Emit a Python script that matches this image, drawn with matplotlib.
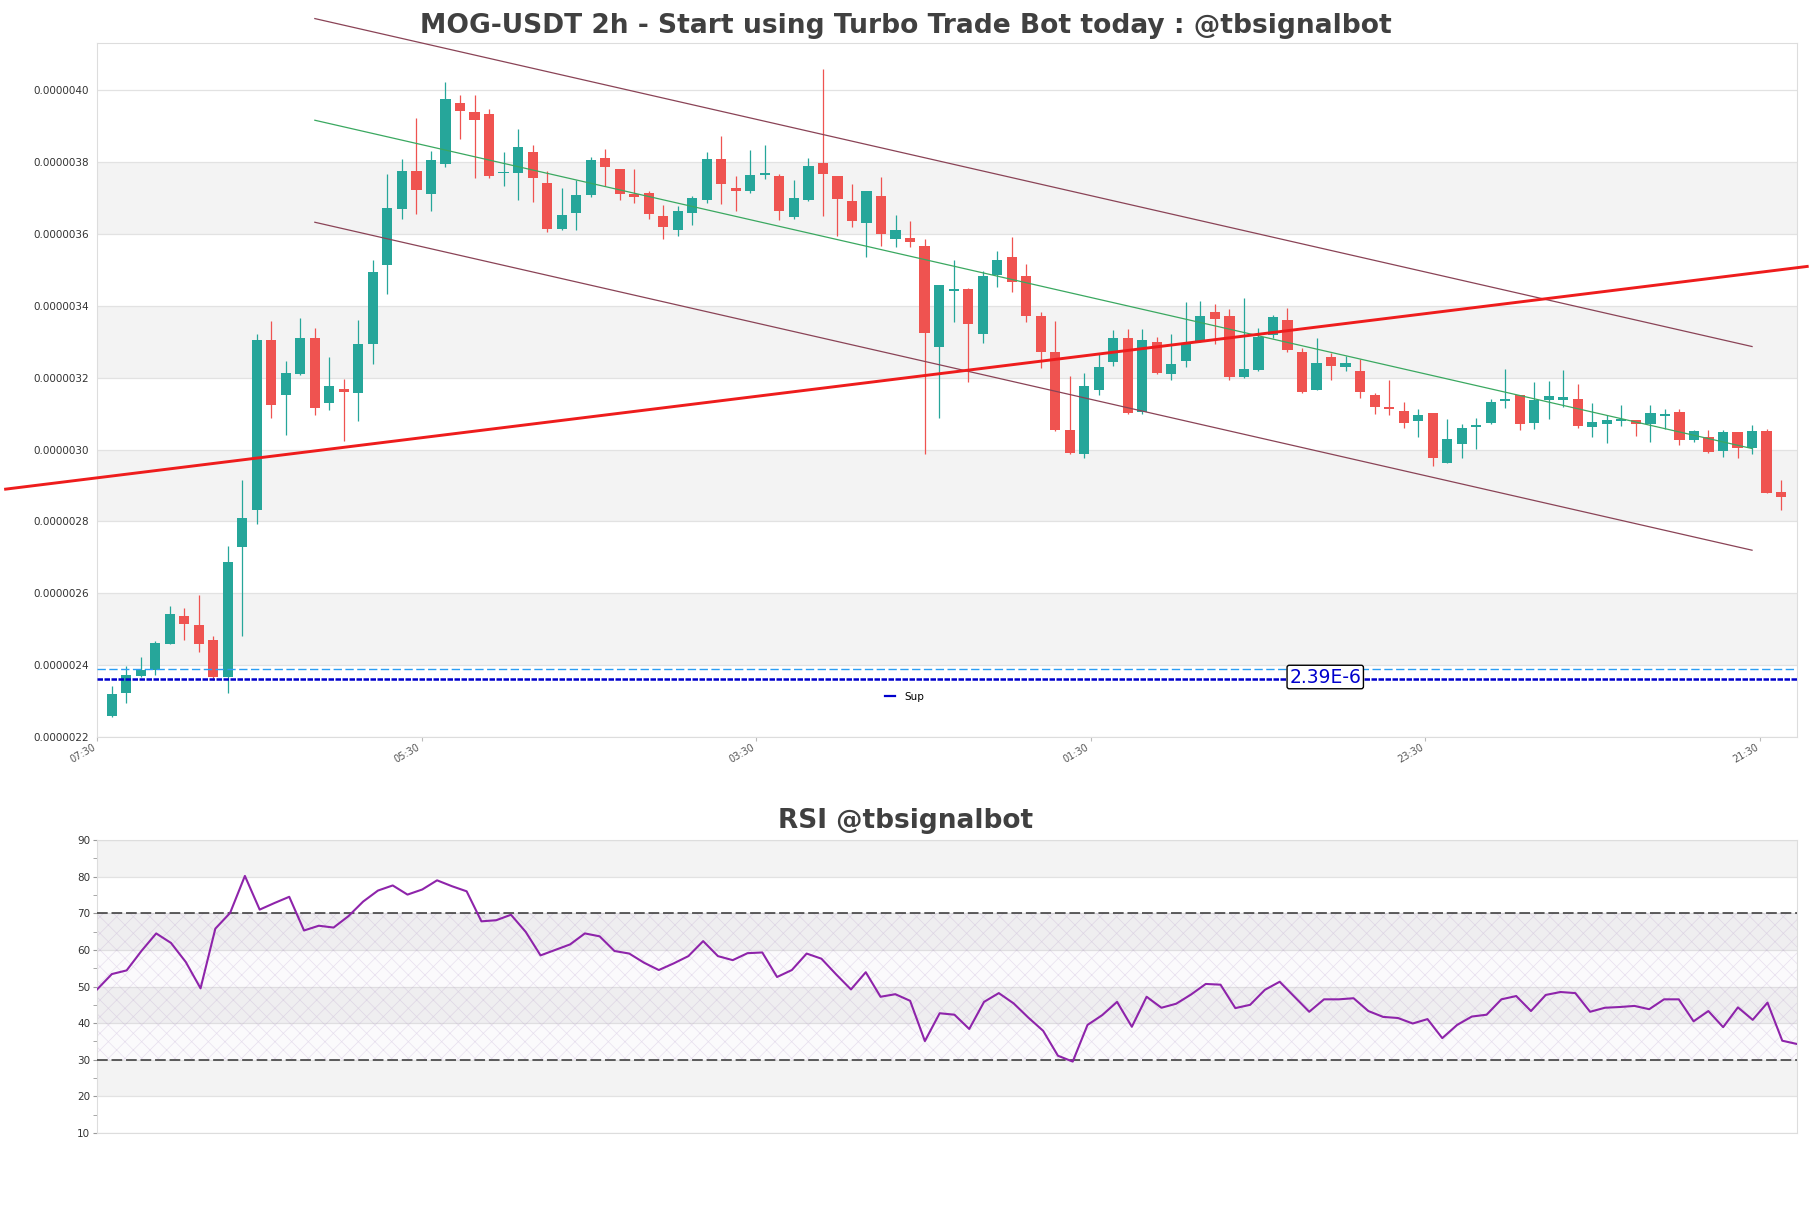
import numpy as np
import matplotlib
matplotlib.use("Agg")
import matplotlib.pyplot as plt
from matplotlib.lines import Line2D
from matplotlib.ticker import FormatStrFormatter, MultipleLocator

# candle data (price in units of 1e-6)
opens = [2.259, 2.322, 2.371, 2.386, 2.460, 2.536, 2.512, 2.470, 2.367, 2.730,
         2.831, 3.304, 3.151, 3.211, 3.310, 3.130, 3.169, 3.158, 3.294, 3.513,
         3.669, 3.776, 3.713, 3.795, 3.965, 3.940, 3.934, 3.769, 3.769, 3.829,
         3.742, 3.613, 3.658, 3.710, 3.812, 3.782, 3.711, 3.714, 3.651, 3.611,
         3.658, 3.695, 3.810, 3.729, 3.719, 3.764, 3.763, 3.649, 3.694, 3.798,
         3.763, 3.693, 3.630, 3.706, 3.587, 3.590, 3.566, 3.286, 3.443, 3.448,
         3.322, 3.486, 3.536, 3.482, 3.373, 3.272, 3.054, 2.988, 3.166, 3.243,
         3.312, 3.105, 3.301, 3.211, 3.247, 3.301, 3.382, 3.373, 3.202, 3.223,
         3.319, 3.361, 3.273, 3.166, 3.257, 3.231, 3.220, 3.151, 3.118, 3.108,
         3.081, 3.102, 2.964, 3.016, 3.064, 3.075, 3.135, 3.151, 3.075, 3.139,
         3.139, 3.140, 3.063, 3.072, 3.081, 3.082, 3.072, 3.093, 3.106, 3.027,
         3.036, 2.996, 3.048, 3.004, 3.052, 2.883]
closes = [2.319, 2.373, 2.387, 2.461, 2.542, 2.514, 2.460, 2.367, 2.687, 2.810,
          3.304, 3.124, 3.214, 3.312, 3.116, 3.176, 3.161, 3.295, 3.495, 3.673,
          3.776, 3.724, 3.806, 3.976, 3.943, 3.919, 3.761, 3.772, 3.842, 3.757,
          3.613, 3.654, 3.710, 3.806, 3.788, 3.713, 3.702, 3.657, 3.619, 3.665,
          3.701, 3.810, 3.739, 3.720, 3.765, 3.770, 3.664, 3.701, 3.790, 3.766,
          3.699, 3.636, 3.720, 3.600, 3.611, 3.578, 3.325, 3.459, 3.448, 3.349,
          3.482, 3.528, 3.466, 3.373, 3.271, 3.054, 2.990, 3.178, 3.231, 3.312,
          3.102, 3.306, 3.214, 3.239, 3.298, 3.373, 3.365, 3.202, 3.225, 3.313,
          3.369, 3.277, 3.160, 3.240, 3.233, 3.242, 3.160, 3.120, 3.113, 3.075,
          3.096, 2.976, 3.029, 3.060, 3.069, 3.133, 3.142, 3.072, 3.139, 3.149,
          3.146, 3.065, 3.078, 3.082, 3.086, 3.072, 3.102, 3.100, 3.027, 3.052,
          2.994, 3.048, 3.004, 3.051, 2.880, 2.867]
highs = [2.341, 2.398, 2.422, 2.467, 2.566, 2.560, 2.594, 2.482, 2.733, 2.916,
         3.323, 3.359, 3.246, 3.366, 3.339, 3.259, 3.196, 3.361, 3.529, 3.767,
         3.810, 3.922, 3.831, 4.024, 3.988, 3.988, 3.948, 3.829, 3.892, 3.847,
         3.776, 3.728, 3.752, 3.814, 3.837, 3.782, 3.780, 3.720, 3.680, 3.678,
         3.706, 3.829, 3.873, 3.763, 3.834, 3.848, 3.767, 3.751, 3.812, 4.060,
         3.763, 3.740, 3.720, 3.760, 3.654, 3.637, 3.587, 3.459, 3.527, 3.450,
         3.496, 3.554, 3.593, 3.518, 3.383, 3.357, 3.204, 3.214, 3.270, 3.334,
         3.337, 3.337, 3.313, 3.323, 3.410, 3.414, 3.406, 3.392, 3.422, 3.340,
         3.376, 3.395, 3.283, 3.312, 3.269, 3.260, 3.253, 3.159, 3.195, 3.133,
         3.114, 3.102, 3.084, 3.072, 3.087, 3.142, 3.225, 3.151, 3.187, 3.190,
         3.223, 3.184, 3.129, 3.096, 3.123, 3.082, 3.123, 3.114, 3.114, 3.054,
         3.054, 3.054, 3.048, 3.069, 3.057, 2.916]
lows = [2.257, 2.295, 2.367, 2.373, 2.458, 2.470, 2.436, 2.359, 2.323, 2.482,
        2.793, 3.087, 3.041, 3.207, 3.096, 3.111, 3.024, 3.080, 3.237, 3.434,
        3.641, 3.657, 3.665, 3.787, 3.865, 3.757, 3.757, 3.733, 3.696, 3.688,
        3.605, 3.611, 3.611, 3.704, 3.733, 3.696, 3.686, 3.642, 3.586, 3.596,
        3.624, 3.686, 3.683, 3.664, 3.714, 3.753, 3.639, 3.642, 3.692, 3.651,
        3.594, 3.619, 3.536, 3.566, 3.563, 3.563, 2.988, 3.087, 3.355, 3.187,
        3.298, 3.452, 3.440, 3.355, 3.227, 3.052, 2.988, 2.978, 3.151, 3.234,
        3.100, 3.099, 3.210, 3.195, 3.229, 3.299, 3.295, 3.193, 3.199, 3.219,
        3.310, 3.271, 3.159, 3.166, 3.193, 3.219, 3.143, 3.099, 3.096, 3.060,
        3.035, 2.955, 2.962, 2.976, 3.002, 3.072, 3.117, 3.054, 3.058, 3.084,
        3.120, 3.060, 3.036, 3.019, 3.066, 3.039, 3.022, 3.057, 3.012, 3.020,
        2.992, 2.980, 2.978, 2.988, 2.880, 2.831]

rsi = [49.2, 53.4, 54.4, 59.7, 64.5, 61.9, 56.7, 49.5, 65.8, 70.1,
       80.2, 71.0, 72.8, 74.5, 65.3, 66.6, 66.1, 69.2, 73.2, 76.2,
       77.6, 75.1, 76.5, 79.0, 77.4, 76.0, 67.8, 68.1, 69.6, 64.9,
       58.5, 60.0, 61.5, 64.5, 63.7, 59.7, 59.0, 56.5, 54.5, 56.3,
       58.3, 62.4, 58.3, 57.2, 59.1, 59.3, 52.6, 54.5, 59.0, 57.6,
       53.3, 49.2, 53.9, 47.2, 47.9, 46.1, 35.1, 42.7, 42.3, 38.4,
       45.8, 48.2, 45.4, 41.5, 37.9, 31.1, 29.5, 39.5, 42.2, 45.8,
       39.0, 47.2, 44.2, 45.3, 47.8, 50.7, 50.5, 44.1, 45.0, 49.1,
       51.3, 47.2, 43.1, 46.5, 46.5, 46.8, 43.3, 41.7, 41.4, 39.9,
       41.1, 35.9, 39.5, 41.8, 42.3, 46.5, 47.4, 43.3, 47.7, 48.5,
       48.2, 43.1, 44.2, 44.4, 44.7, 43.8, 46.5, 46.5, 40.5, 43.3,
       38.9, 44.3, 40.9, 45.6, 35.2, 34.3]

# trend lines (candle index, price 1e-6)
trend_x = [-7.3, 116.8]
trend_y = [2.89, 3.51]
channel_x = [14, 113]
channel_upper = [4.200, 3.287]
channel_mid = [3.917, 3.003]
channel_lower = [3.633, 2.720]
support = 2.362
support_label = 2.39

time_labels = ['07:30', '05:30', '03:30', '01:30', '23:30', '21:30']
time_ticks = [-1.0, 21.35, 44.4, 67.45, 90.5, 113.55]

scale = 1e-6
o = np.array(opens) * scale
c = np.array(closes) * scale
h = np.array(highs) * scale
l = np.array(lows) * scale
x = np.arange(len(o))

green = '#26a69a'
red = '#ef5350'
band = '#f3f3f3'
gridc = '#e2e2e2'

plt.rcParams['hatch.linewidth'] = 0.5

fig = plt.figure(figsize=(18.11, 12.08), dpi=100)
ax = fig.add_axes([0.0536, 0.3899, 0.9387, 0.5745])
ax2 = fig.add_axes([0.0536, 0.0621, 0.9387, 0.2425])

# price panel
yt = np.arange(2.2, 4.01, 0.2) * scale
for k in range(1, len(yt) - 1, 2):
    ax.axhspan(yt[k], yt[k + 1], color=band, zorder=0, lw=0)
ax.set_yticks(yt)
ax.yaxis.set_major_formatter(FormatStrFormatter('%.7f'))
ax.yaxis.grid(True, color=gridc, lw=0.9)
ax.set_axisbelow(True)

up = c >= o
cols = np.where(up, green, red)
ax.vlines(x, l, h, colors=cols, lw=0.9, zorder=2)
body_lo = np.minimum(o, c)
body_h = np.maximum(np.abs(c - o), 0.005 * scale)
ax.bar(x, body_h, bottom=body_lo, width=0.7, color=cols, lw=0, zorder=3)

ax.plot(np.array(channel_x), np.array(channel_upper) * scale, color='#8a4356', lw=0.9, clip_on=False, zorder=4)
ax.plot(np.array(channel_x), np.array(channel_lower) * scale, color='#8a4356', lw=0.9, clip_on=False, zorder=4)
ax.plot(np.array(channel_x), np.array(channel_mid) * scale, color='#3aa860', lw=0.9, zorder=4)
ax.plot(np.array(trend_x), np.array(trend_y) * scale, color='#ee1c1c', lw=2.1, clip_on=False, zorder=5)

ax.axhline(support_label * scale, color='#2a9df4', ls=(0, (6, 2.5)), lw=1.0, zorder=4)
ax.axhline(support * scale, color='#0000cc', ls=(0, (2.2, 0.6)), lw=1.8, zorder=4)
ax.text(83.6, 2.367 * scale, '2.39E-6', color='#0000cd', fontsize=13.5, ha='center', va='center', zorder=6,
        bbox=dict(boxstyle='round,pad=0.12', fc='white', ec='black', lw=1.0))
ax.legend(handles=[Line2D([], [], color='#0000cc', lw=1.6)], labels=['Sup'], loc='center',
          bbox_to_anchor=(0.475, 0.058), frameon=False, fontsize=7.5, handlelength=1.0, handletextpad=0.9)

ax.set_xlim(-1.0, 116.1)
ax.set_ylim(2.2 * scale, 4.132 * scale)
ax.set_xticks(time_ticks)
ax.set_xticklabels(time_labels, rotation=30, ha='right', fontsize=7, color='#555555')
ax.tick_params(axis='x', length=3, pad=1, color='#bbbbbb')
ax.tick_params(axis='y', labelsize=7.5, labelcolor='#333333', length=0, pad=6)
for s in ax.spines.values():
    s.set_color('#dddddd')

# RSI panel
rt = np.arange(10, 91, 10)
for k in range(1, len(rt) - 1, 2):
    ax2.axhspan(rt[k], rt[k + 1], color=band, zorder=0, lw=0)
ax2.axhspan(30, 70, facecolor=(0.55, 0.4, 0.7, 0.03), edgecolor=(0.6, 0.45, 0.72, 0.2),
            hatch='xx', lw=0, zorder=1)
ax2.set_yticks(rt)
ax2.yaxis.set_minor_locator(MultipleLocator(5))
ax2.yaxis.grid(True, color=gridc, lw=0.9)
ax2.set_axisbelow(True)
ax2.axhline(70, color='#333333', ls=(0, (7, 2.5)), lw=1.1, zorder=3)
ax2.axhline(30, color='#333333', ls=(0, (7, 2.5)), lw=1.1, zorder=3)
ax2.plot(np.arange(len(rsi)), rsi, color='#8e24aa', lw=1.5, zorder=4)
ax2.set_xlim(0, len(rsi) - 1)
ax2.set_ylim(10, 90)
ax2.set_xticks([])
ax2.tick_params(axis='y', which='both', labelsize=7.5, labelcolor='#333333', length=3, color='#999999', pad=2)
for s in ax2.spines.values():
    s.set_color('#dddddd')

fig.text(0.5, 0.973, 'MOG-USDT 2h - Start using Turbo Trade Bot today : @tbsignalbot', ha='center',
         va='baseline', fontsize=19.1, fontweight='bold', color='#404040')
fig.text(0.5, 0.3146, 'RSI @tbsignalbot', ha='center', va='baseline', fontsize=19,
         fontweight='bold', color='#404040')

fig.savefig('out.png', dpi=100)
